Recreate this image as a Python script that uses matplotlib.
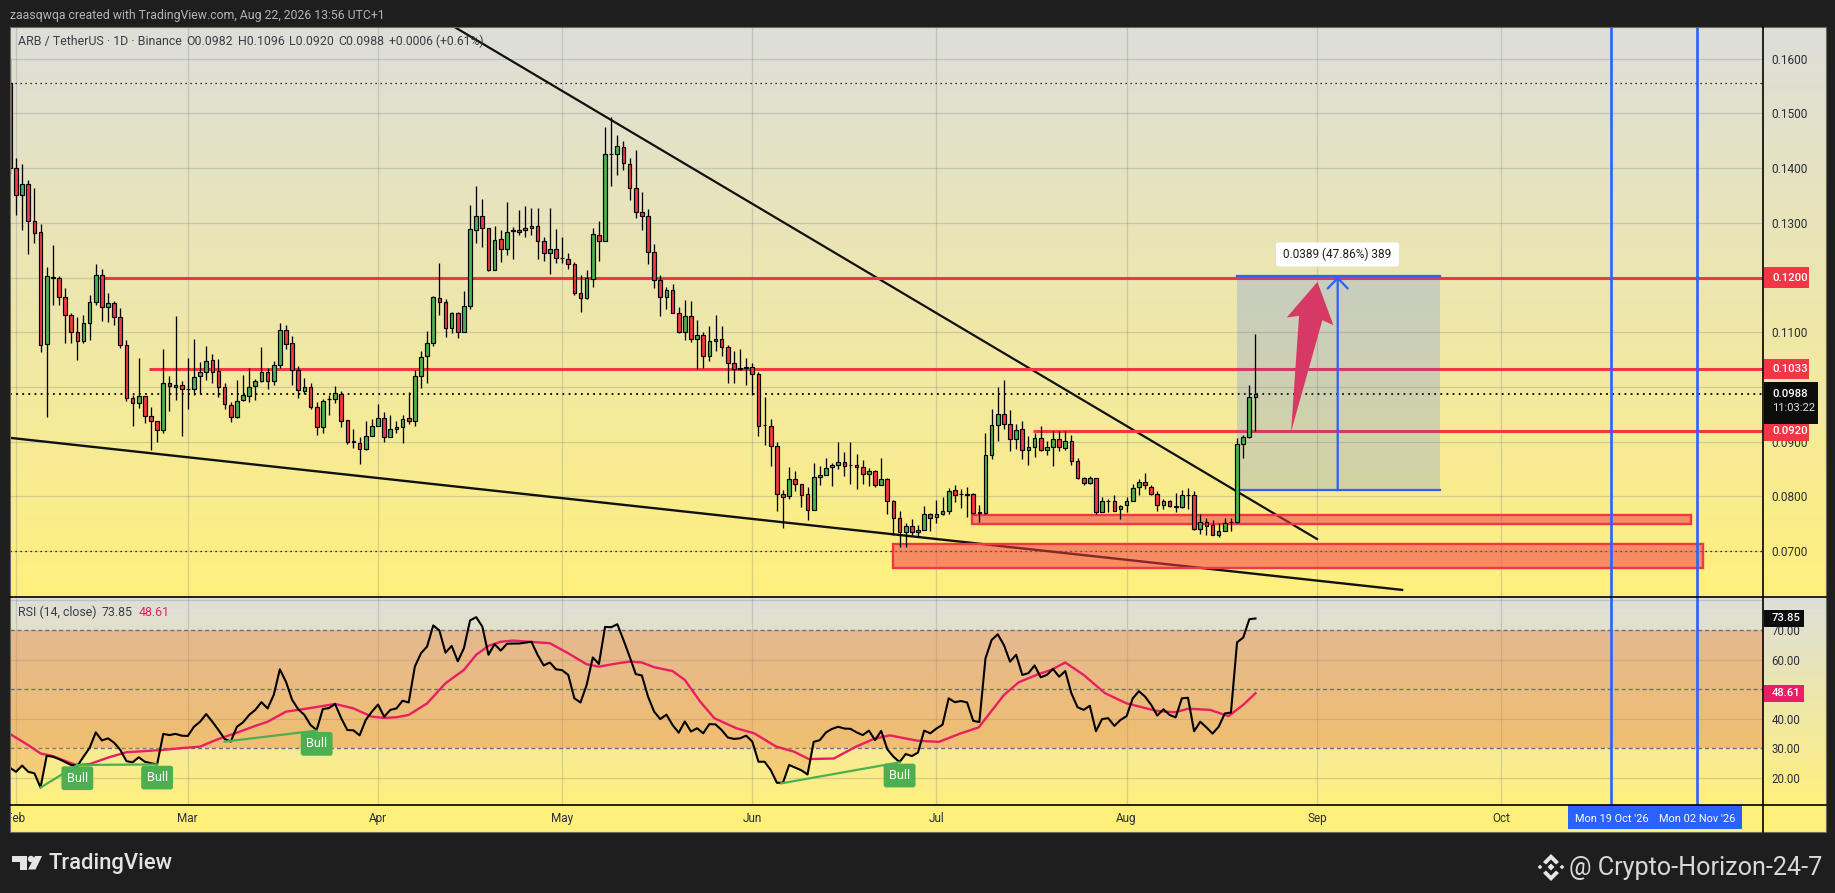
import numpy as np
import pandas as pd
import matplotlib
matplotlib.use('Agg')
import matplotlib.pyplot as plt
from matplotlib.patches import Rectangle, Polygon, FancyBboxPatch, Circle
from matplotlib.transforms import blended_transform_factory

plt.rcParams['font.family'] = ['Roboto', 'DejaVu Sans']

# ---------- data (prices in 1/10000 USDT; index 0 = first bar = 31 Jan) ----------
START = pd.Timestamp('2026-01-31')
opens = [1556,
 1400,1351,1371,1304,1284,1078,1201,1200,1164,1131,
 1100,1084,1117,1155,1204,1146,1153,1127,1077,980,
 971,984,946,937,922,1007,1000,1004,997,997,
 1020,1027,1049,1029,1000,967,945,976,984,1002,
 1011,1027,1011,1040,1104,1080,1031,993,1000,964,
 927,978,978,987,940,901,898,886,911,929,
 944,909,924,927,944,938,1020,1056,1080,1163,
 1156,1108,1136,1101,1148,1287,1313,1291,1214,1271,
 1253,1286,1286,1287,1291,1295,1266,1244,1253,1236,
 1234,1225,1172,1163,1198,1278,1266,1425,1425,1439,
 1408,1363,1319,1313,1247,1196,1164,1177,1135,1101,
 1130,1088,1095,1057,1084,1088,1073,1044,1035,1036,
 1036,1024,931,929,892,805,801,832,823,805,
 775,836,839,854,858,863,858,858,854,840,
 847,820,832,792,761,734,745,734,739,768,
 763,767,774,812,805,805,805,771,770,876,
 931,951,933,905,924,885,891,907,884,891,
 904,889,902,864,833,825,833,772,792,792,
 776,785,791,818,827,818,805,785,792,783,
 780,803,803,741,754,747,729,736,754,754,
 896,909,982]
closes = [1400,
 1351,1371,1304,1282,1077,1202,1200,1164,1131,1100,
 1084,1117,1155,1204,1146,1153,1127,1077,980,971,
 984,947,937,922,1007,1002,1004,997,997,1018,
 1027,1047,1027,1000,969,945,975,985,1000,1011,
 1027,1011,1040,1104,1078,1031,995,1000,964,926,
 975,978,989,938,900,900,886,911,929,944,
 909,924,927,942,938,1020,1055,1080,1164,1156,
 1108,1136,1101,1148,1289,1313,1291,1214,1269,1253,
 1284,1285,1284,1291,1295,1266,1244,1253,1236,1236,
 1225,1172,1163,1200,1280,1266,1425,1425,1441,1410,
 1363,1319,1313,1247,1195,1164,1177,1135,1101,1130,
 1088,1095,1057,1084,1088,1073,1044,1033,1033,1035,
 1024,929,931,892,805,799,832,823,803,775,
 836,839,852,858,863,856,858,854,840,847,
 820,832,792,761,734,745,734,739,768,761,
 768,774,810,803,805,803,770,770,876,931,
 951,933,905,922,885,891,907,885,891,905,
 891,902,864,833,825,834,772,791,792,774,
 783,791,816,827,820,805,785,792,783,780,
 802,802,741,754,745,729,736,752,753,896,
 909,982,988]
highs = [1600,
 1418,1408,1379,1364,1297,1220,1260,1203,1180,1135,
 1128,1131,1168,1224,1215,1171,1158,1144,1086,986,
 1052,984,964,937,1069,1020,1129,1011,1053,1087,
 1046,1075,1061,1051,1007,973,1013,1022,1035,1015,
 1073,1035,1047,1116,1113,1093,1038,1016,1007,973,
 978,985,1002,993,940,924,909,938,942,969,
 955,949,938,949,991,1031,1066,1102,1167,1226,
 1161,1137,1137,1176,1333,1368,1344,1291,1295,1287,
 1339,1293,1324,1330,1328,1328,1275,1328,1289,1275,
 1245,1229,1205,1214,1291,1304,1476,1494,1461,1449,
 1419,1434,1357,1326,1262,1205,1182,1189,1146,1159,
 1157,1122,1101,1112,1132,1112,1077,1066,1070,1053,
 1044,1027,982,942,900,812,854,847,823,817,
 861,856,870,861,900,881,900,878,867,851,
 849,871,834,794,774,752,759,747,783,770,
 794,798,816,821,814,818,807,785,915,960,
 1000,1013,958,933,938,911,915,929,902,920,
 920,920,913,871,836,838,834,798,796,803,
 785,798,823,831,842,820,809,796,794,807,
 811,816,809,767,760,756,752,760,761,907,
 913,1004,1096]
lows = [1390,
 1314,1287,1243,1263,1063,945,1150,1149,1081,1081,
 1050,1081,1085,1150,1121,1118,1114,1071,974,929,
 961,934,885,900,915,956,977,910,960,985,
 988,1012,1007,981,960,936,944,975,973,976,
 1009,996,1003,1035,1069,1003,980,987,960,913,
 915,949,971,927,896,889,859,884,911,929,
 900,909,915,898,933,929,998,1007,1075,1132,
 1092,1099,1090,1101,1143,1264,1256,1212,1214,1229,
 1242,1234,1277,1275,1278,1234,1231,1207,1227,1227,
 1216,1168,1137,1161,1183,1231,1266,1368,1388,1397,
 1342,1309,1286,1225,1180,1129,1143,1135,1099,1085,
 1082,1033,1035,1047,1066,1057,1007,1007,1031,1003,
 985,911,893,855,773,742,795,810,781,757,
 775,821,839,819,850,837,823,813,823,819,
 818,820,768,730,708,708,730,725,739,737,
 752,765,767,790,778,763,767,754,768,869,
 902,924,883,887,869,857,872,882,876,856,
 882,885,858,831,820,823,767,771,771,774,
 758,772,791,802,813,803,774,776,780,772,
 778,776,738,732,730,729,725,736,736,752,
 871,907,920]

rsi = [23.5,
 22.1,24.2,22.1,21.6,16.8,27.5,27.2,26.4,25.4,24.4,
 24.1,27.2,30.2,35.4,32.7,33.4,31.9,29.5,25.7,25.3,
 27.0,25.5,25.0,24.6,34.9,34.5,34.9,34.3,34.2,37.3,
 39.0,41.6,39.0,36.2,33.2,32.3,37.3,38.8,41.3,43.0,
 45.6,43.5,48.0,56.7,52.5,46.4,43.2,41.3,37.9,36.2,
 43.3,43.6,45.0,40.2,36.2,36.1,34.4,39.6,42.4,44.8,
 40.7,43.0,43.5,46.1,45.5,57.6,62.1,64.4,71.5,69.8,
 62.3,64.6,59.4,63.8,73.2,74.3,71.1,61.6,65.2,63.0,
 65.3,65.4,65.4,65.7,66.0,61.6,58.0,59.0,56.7,56.4,
 54.8,46.9,45.5,51.4,60.7,58.5,71.0,70.9,71.9,66.6,
 61.0,55.1,54.6,47.5,42.4,39.9,41.4,37.9,35.3,39.1,
 35.7,36.8,35.1,38.2,38.1,36.2,33.7,33.2,33.4,34.3,
 32.3,25.5,25.5,22.7,18.4,18.4,24.4,23.5,22.6,21.2,
 32.2,32.8,35.4,36.6,37.3,36.7,36.6,35.4,34.5,36.0,
 32.8,35.9,29.7,27.2,25.4,28.1,27.4,28.6,36.0,35.1,
 36.7,38.0,46.9,45.6,46.0,45.5,39.3,38.9,60.4,66.6,
 68.5,64.9,59.3,61.6,54.8,55.4,58.0,54.0,54.8,56.8,
 54.2,56.1,48.6,43.9,43.0,44.4,35.8,39.9,40.2,37.6,
 39.6,40.9,46.9,49.3,47.5,44.7,41.1,43.2,41.3,40.5,
 46.9,47.1,35.8,39.0,37.1,35.0,37.3,41.8,42.1,65.8,
 67.4,73.6,73.85]

# RSI moving average, read as (days after 1 Feb, value)
ma_day = [-1,2,4,6,9,10,12,15,18,24,27,30,33,36,39,41,44,47,50,52,55,58,60,62,64,67,70,73,75,77,79,81,85,87,
          90,93,95,98,100,102,104,107,109,111.5,113.8,117.4,120.3,123.9,126.8,129.2,133.3,136.9,139.8,142.4,
          146.9,150.4,154,156.9,161,163.4,166.3,168.7,171,174,177.5,181,185.8,188.8,191.1,194.6,197.6,200,202]
ma_val = [34.9,31.1,28.3,27.4,25.0,24.4,24.7,26.9,28.7,29.5,30.1,30.6,33.2,35.3,37.6,39.0,42.4,43.3,44.3,45.0,
          43.5,40.7,40.3,40.5,41.3,45.2,52.0,56.5,61.6,64.6,66.0,66.4,65.8,65.5,62.1,58.4,57.6,58.7,59.3,59.0,
          57.4,56.1,53.1,45.8,40.2,36.8,35.1,30.6,28.9,26.4,26.6,30.6,33.2,34.4,32.6,32.2,35.1,37.1,48.0,52.3,
          54.8,56.5,59.0,54.8,48.6,45.2,42.7,42.2,43.4,43.0,40.9,44.7,48.61]

bull_day_from = [4, 10, 34, 124.7]
bull_day_to = [10, 23, 49, 144]
bull_rsi_from = [16.8, 24.4, 32.3, 18.2]
bull_rsi_to = [24.4, 24.6, 36.0, 25.3]

price_ticks = [0.07,0.08,0.09,0.10,0.11,0.12,0.13,0.14,0.15,0.16]
rsi_grid = [20,40,60,80]
rsi_dash = [30,50,70]
rsi_tick_labels = [20,30,40,60,70]
month_names = ['Feb','Mar','Apr','May','Jun','Jul','Aug','Sep','Oct']
month_starts = ['2026-02-01','2026-03-01','2026-04-01','2026-05-01','2026-06-01','2026-07-01','2026-08-01','2026-09-01','2026-10-01']
vline_dates = ['2026-10-19','2026-11-02']
vline_labels = ["Mon 19 Oct '26","Mon 02 Nov '26"]
level_prices = [0.1200,0.1033,0.0920]
level_start_days = [13.5,21.7,165.8]
last_price = 0.0988

# ---------- layout ----------
W,H = 1835,893
L,R,RR = 10,1763,1826
T,B1,B2,B3 = 27,597,805,832
PX_DAY = 6.136
X0 = -(16-L)/PX_DAY
X1 = (R-16)/PX_DAY
YLIM = (0.0616,0.1658)
RLIM = (10.9,81.1)

BG='#1E1E1E'; RED='#F23645'; GREEN='#4CAF50'; BLUE='#2962FF'; PINK='#E91E63'
INK='#2A2E39'

fig = plt.figure(figsize=(W/100,H/100),dpi=100,facecolor=BG)
def axpx(x0,y0,x1,y1,**k):
    return fig.add_axes([x0/W,1-y1/H,(x1-x0)/W,(y1-y0)/H],**k)

def day(s):
    return (pd.Timestamp(s)-pd.Timestamp('2026-02-01')).days

top_c=np.array([221,222,217])/255; bot_c=np.array([255,240,125])/255
grad=np.linspace(0,1,256)[:,None,None]*(bot_c-top_c)+top_c
for (a,b) in [(T,B1),(B1,B2)]:
    bg=axpx(L,a,RR,b,zorder=0); bg.imshow(grad,aspect='auto',extent=(0,1,0,1)); bg.axis('off')
strip_bg=axpx(L,B2,RR,B3,zorder=0,facecolor='#FFF07C'); strip_bg.set_xticks([]); strip_bg.set_yticks([])
for s in strip_bg.spines.values(): s.set_visible(False)

# ---------- main pane ----------
ax=axpx(L,T,R,B1,zorder=2); ax.patch.set_visible(False)
ax.set_xlim(X0,X1); ax.set_ylim(*YLIM)
for s in ax.spines.values(): s.set_visible(False)
ax.set_axisbelow(True)
x=np.arange(len(opens))-1
o,h,l,c=[np.array(v)/1e4 for v in (opens,highs,lows,closes)]
month_x=[day(m) for m in month_starts]
ax.set_xticks(month_x); ax.set_xticklabels([])
ax.yaxis.tick_right()
ax.set_yticks(price_ticks); ax.set_yticklabels([f'{t:.4f}' for t in price_ticks],fontsize=8.6,color=INK)
ax.tick_params(length=0,pad=6.2)
ax.grid(True,color='#787B86',alpha=0.28,lw=0.9)

# dotted levels
ax.axhline(0.1555,color='black',lw=0.9,ls=(0,(1,3)),zorder=1)
ax.axhline(0.07,color='black',lw=0.9,ls=(0,(1,3)),zorder=1)
ax.axhline(last_price,color='black',lw=1.3,ls=(0,(1,2.4)),zorder=2)

# trend lines
ax.plot([71.46,212.03],[0.1658,0.0722],color='#111',lw=1.6,zorder=3)
ax.plot([-1,225.9],[0.0907,0.0629],color='#111',lw=1.7,zorder=3)

# levels
for p,s in zip(level_prices,level_start_days):
    ax.plot([s,X1],[p,p],color=RED,lw=2.2,zorder=3.5,solid_capstyle='butt')

# zones
for (x0,x1,y0,y1) in [(155.8,273,0.0749,0.0766),(143,275,0.0669,0.0713)]:
    ax.add_patch(Rectangle((x0,y0),x1-x0,y1-y0,facecolor=(0.949,0.212,0.271,0.53),edgecolor=RED,lw=1.7,zorder=4))

# long position box
ax.add_patch(Rectangle((199,0.0811),33,0.0391,facecolor=(0.161,0.384,1,0.18),edgecolor='none',zorder=4.5))
ax.plot([199,232],[0.1202,0.1202],color=BLUE,lw=1.6,zorder=4.6)
ax.plot([199,232],[0.0811,0.0811],color=BLUE,lw=1.6,zorder=4.6)
ax.annotate('',xy=(215.4,0.1202),xytext=(215.4,0.0811),zorder=4.7,
            arrowprops=dict(arrowstyle='->,head_length=0.75,head_width=0.72',color=BLUE,lw=1.6,shrinkA=0,shrinkB=0))

# hand-drawn arrow
ax.add_patch(Polygon([(212.1,0.1192),(207.1,0.1127),(209.1,0.1130),(207.8,0.0918),(212.9,0.1122),(214.7,0.1113)],
                     closed=True,facecolor='#D63A64',edgecolor='none',zorder=5))

# candles
up=c>=o
bottoms=np.minimum(o,c); heights=np.abs(c-o)
ax.vlines(x,l,h,color='black',lw=0.95,zorder=6)
ax.bar(x[up],heights[up],bottom=bottoms[up],width=0.6,color=GREEN,edgecolor='black',lw=0.85,zorder=6.1)
ax.bar(x[~up],heights[~up],bottom=bottoms[~up],width=0.6,color=RED,edgecolor='black',lw=0.85,zorder=6.1)

# ---------- RSI pane ----------
rx=axpx(L,B1,R,B2,zorder=2); rx.patch.set_visible(False)
rx.set_xlim(X0,X1); rx.set_ylim(*RLIM)
for s in rx.spines.values(): s.set_visible(False)
rx.set_axisbelow(True)
rx.set_xticks(month_x); rx.set_xticklabels([])
rx.yaxis.tick_right()
rx.set_yticks(rsi_tick_labels); rx.set_yticklabels([f'{t:.2f}' for t in rsi_tick_labels],fontsize=8.3,color=INK)
rx.tick_params(length=0,pad=6.2)
rx.grid(True,axis='x',color='#787B86',alpha=0.28,lw=0.9)
for v in rsi_grid: rx.axhline(v,color='#787B86',alpha=0.28,lw=0.9,zorder=0.5)
rx.axhspan(30,70,color=(0.91,0.49,0.22),alpha=0.40,lw=0,zorder=1)
for v in rsi_dash: rx.axhline(v,color='#6E7180',lw=1.0,ls=(0,(3,2)),zorder=1.5)
rsi_arr=np.array(rsi); rx_days=np.arange(len(rsi))-1
rx.fill_between(rx_days,rsi_arr,30,where=rsi_arr<30,interpolate=True,color='#F2A65A',alpha=0.45,lw=0,zorder=1.6)
rx.plot(ma_day,ma_val,color=PINK,lw=1.7,zorder=3)
rx.plot(rx_days,rsi_arr,color='black',lw=1.5,zorder=4)
for d0,d1,r0,r1 in zip(bull_day_from,bull_day_to,bull_rsi_from,bull_rsi_to):
    rx.plot([d0,d1],[r0,r1],color=GREEN,lw=1.6,zorder=4.5)
    rx.annotate('Bull',xy=(d1,r1),xytext=(0,-9.5),textcoords='offset points',ha='center',va='center',
                color='white',fontsize=9.2,zorder=6,
                bbox=dict(boxstyle='round,pad=0.42,rounding_size=0.2',fc=GREEN,ec='none'))

# ---------- date strip ----------
sx=axpx(L,B2,R,B3,zorder=2); sx.patch.set_visible(False); sx.axis('off')
sx.set_xlim(X0,X1); sx.set_ylim(0,1)
for name,m in zip(month_names,month_x):
    sx.text(m,0.5,name,ha='center',va='center',fontsize=8.5,color=INK,clip_on=True)

# ---------- event lines ----------
vx=[day(d) for d in vline_dates]
for a_ in (ax,rx):
    for v in vx:
        a_.axvline(v,color=BLUE,lw=1.9,zorder=5.5)
box_l=(1568-16)/PX_DAY; box_r=(1742-16)/PX_DAY
sx.add_patch(Rectangle((box_l,0.12),box_r-box_l,0.88,facecolor=BLUE,edgecolor='none',zorder=3))
for v,t in zip(vx,vline_labels):
    sx.text(v,0.5,t,ha='center',va='center',fontsize=7.9,color='white',zorder=4)

# ---------- price-scale tags ----------
def tag(a_,val,width,hgt,fc,txt,fs=8.2):
    tr=blended_transform_factory(a_.transAxes,a_.transData)
    wf=width/(R-L)
    a_.add_patch(Rectangle((1.0005,val-hgt/2),wf,hgt,transform=tr,facecolor=fc,edgecolor='none',clip_on=False,zorder=8))
    a_.text(1.0005+8/(R-L),val,txt,transform=tr,color='white',fontsize=fs,fontweight='medium',ha='left',va='center',zorder=9,clip_on=False)
for p in level_prices:
    tag(ax,p,45,0.0037,RED,f'{p:.4f}')
# last price tag (two lines)
tr=blended_transform_factory(ax.transAxes,ax.transData)
ax.add_patch(Rectangle((1.0005,0.0933),54/(R-L),0.0055,transform=tr,facecolor='#0C0C0C',edgecolor='none',clip_on=False,zorder=8))
ax.add_patch(Rectangle((1.0005,0.0988-0.0002),54/(R-L),0.0023,transform=tr,facecolor='#0C0C0C',edgecolor='none',clip_on=False,zorder=8))
ax.text(1.0005+8/(R-L),last_price,f'{last_price:.4f}',transform=tr,color='white',fontsize=8.2,fontweight='medium',va='center',zorder=9,clip_on=False)
ax.text(1.0005+8/(R-L),0.0962,'11:03:22',transform=tr,color='#DDDDDD',fontsize=8.0,va='center',zorder=9,clip_on=False)
tag(rx,73.85,40,5.6,'#0C0C0C','73.85',8.1)
tag(rx,48.61,40,5.8,PINK,'48.61',8.1)

# ---------- overlay: frame lines, texts, logos ----------
ov=axpx(0,0,W,H,zorder=10); ov.patch.set_visible(False); ov.axis('off')
ov.set_xlim(0,W); ov.set_ylim(H,0)
ov.add_patch(Rectangle((L,T),RR-L,B3-T,fill=False,edgecolor='#6A6A60',lw=0.8))
ov.plot([R,R],[T,B3],color='black',lw=1.2)
for yy in (B1,B2): ov.plot([L,RR],[yy,yy],color='black',lw=1.2)

ov.text(10,15,'zaasqwqa created with TradingView.com, Aug 22, 2026 13:56 UTC+1',color='#B4B4B4',fontsize=8.85,va='center')
ov.text(18,41.5,'ARB / TetherUS · 1D · Binance',color='#3A3D46',fontsize=8.9,va='center')
ov.text(186.5,41.5,'O0.0982',color='#3A3D46',fontsize=8.9,va='center')
ov.text(237.5,41.5,'H0.1096',color='#3A3D46',fontsize=8.9,va='center')
ov.text(288.5,41.5,'L0.0920',color='#3A3D46',fontsize=8.9,va='center')
ov.text(338,41.5,'C0.0988',color='#3A3D46',fontsize=8.9,va='center')
ov.text(388.5,41.5,'+0.0006 (+0.61%)',color='#3A3D46',fontsize=8.7,va='center')
ov.text(18,612,'RSI (14, close)',color='#3A3D46',fontsize=8.9,va='center')
ov.text(102,612,'73.85',color='#3A3D46',fontsize=8.9,va='center')
ov.text(138.5,612,'48.61',color=PINK,fontsize=8.9,va='center')

# measurement label
ov.add_patch(FancyBboxPatch((1277,243.5),121,22,boxstyle='round,pad=1.5,rounding_size=3',facecolor='white',edgecolor='#E6E3C8',lw=0.8))
ov.text(1337.5,254.5,'0.0389 (47.86%) 389',color='#1a1a1a',fontsize=8.5,ha='center',va='center')

# TradingView logo
LOGO='#E4E4E4'
ov.add_patch(Polygon([(12,856),(27,856),(27,869.5),(19.5,869.5),(19.5,862),(12,862)],facecolor=LOGO,edgecolor='none'))
ov.add_patch(Circle((31,859),3.2,facecolor=LOGO,edgecolor='none'))
ov.add_patch(Polygon([(35,856),(42,856),(35.5,869.5),(28,869.5)],facecolor=LOGO,edgecolor='none'))
ov.text(48,864,'TradingView',color=LOGO,fontsize=15.8,fontweight='medium',va='center')

# Binance-like mark + watermark
def diamond(cx,cy,r):
    ov.add_patch(Polygon([(cx,cy-r),(cx+r,cy),(cx,cy+r),(cx-r,cy)],facecolor='#E6E6E6',edgecolor='none'))
diamond(1551,867,3.5); diamond(1540,867,2.3); diamond(1562,867,2.3)
ov.add_patch(Polygon([(1551,854),(1559,862),(1556,864.5),(1551,859.5),(1546,864.5),(1543,862)],facecolor='#E6E6E6',edgecolor='none'))
ov.add_patch(Polygon([(1551,881),(1559,873),(1556,870.5),(1551,875.5),(1546,870.5),(1543,873)],facecolor='#E6E6E6',edgecolor='none'))
ov.text(1569,868,'@ Crypto-Horizon-24-7',color='#D8D8D8',fontsize=18.1,va='center')

fig.savefig('out.png',dpi=100,facecolor=BG)
